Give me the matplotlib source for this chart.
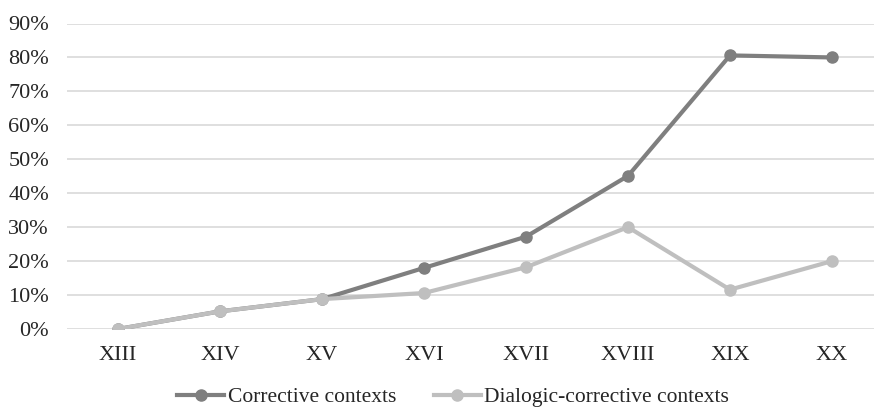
import matplotlib.pyplot as plt
from matplotlib.ticker import PercentFormatter

centuries = ['XIII', 'XIV', 'XV', 'XVI', 'XVII', 'XVIII', 'XIX', 'XX']
corrective = [0.0, 5.2, 8.8, 18.0, 27.2, 45.1, 80.6, 80.0]
dialogic = [0.0, 5.2, 8.8, 10.6, 18.2, 30.0, 11.6, 20.0]

plt.rcParams['font.family'] = ['Liberation Serif', 'DejaVu Serif']

W, H = 874, 408
fig = plt.figure(figsize=(W / 100, H / 100), dpi=100)
# axes runs a little past the right edge, like the cropped original
ax = fig.add_axes([67 / W, (H - 329) / H, 816 / W, (329 - 23.5) / H])

x = range(len(centuries))
ax.plot(x, corrective, '-o', color='#7f7f7f', lw=3, ms=8, label='Corrective contexts', zorder=3)
ax.plot(x, dialogic, '-o', color='#bfbfbf', lw=3, ms=8, label='Dialogic-corrective contexts', zorder=3)

ax.set_xlim(-0.5, len(centuries) - 0.5)
ax.set_ylim(0, 90)
ax.set_yticks(range(0, 91, 10))
ax.yaxis.set_major_formatter(PercentFormatter(decimals=0))
ax.set_xticks(list(x))
ax.set_xticklabels(centuries)
ax.grid(axis='y', color='#d9d9d9', lw=1.2)
ax.set_axisbelow(True)
for s in ax.spines.values():
    s.set_visible(False)
ax.tick_params(length=0, labelsize=16, colors='#262626')
ax.tick_params(axis='y', pad=13)
ax.tick_params(axis='x', pad=12)

fig.legend(loc='center', bbox_to_anchor=(453 / W, (H - 397) / H), ncol=2, frameon=False,
           fontsize=15.5, handlelength=2.2, handletextpad=0.15, columnspacing=1.75,
           labelcolor='#262626', borderaxespad=0, borderpad=0)

fig.savefig('out.png', dpi=100)
